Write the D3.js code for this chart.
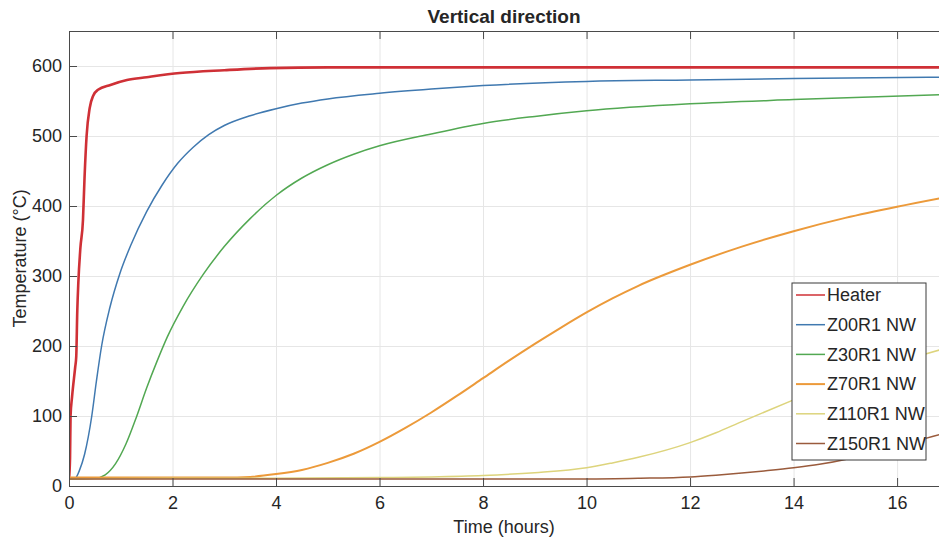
<html>

<head>
  <title>Vertical direction</title>
  <script src="https://d3js.org/d3.v7.min.js"></script>

  <style>
    body {
      margin: 0;
      background: white;
    }

    text {
      font-family: "Liberation Sans", Arial, sans-serif;
      fill: #262626;
    }

    .gridlines line {
      stroke: #e6e6e6;
    }

    .gridlines .domain {
      stroke: none;
    }
  </style>

</head>

<body>
  <svg id="chart" width=939 height=539></svg>

  <script>
    // readings: [time (hours), temperature (°C)]
    const heaterData = [[0, 10], [0.02, 40], [0.03, 100], [0.06, 128], [0.12, 170], [0.14, 185], [0.16, 250],
      [0.18, 290], [0.22, 340], [0.27, 380], [0.3, 440], [0.34, 500], [0.4, 540], [0.47, 558], [0.56, 566],
      [0.8, 573], [1.12, 580], [1.5, 584], [2.14, 590], [3, 594], [3.88, 597], [5, 598], [8, 598], [12, 598], [16.9, 598]];
    const z00Data = [[0, 10], [0.12, 11], [0.2, 22], [0.3, 45], [0.44, 100], [0.53, 150], [0.63, 200], [0.79, 255],
      [0.98, 303], [1.2, 345], [1.5, 392], [1.8, 430], [2.1, 461], [2.4, 484], [2.7, 502], [3, 515], [3.5, 529],
      [4, 539], [4.5, 547], [5, 553], [6, 561], [7, 567], [8, 572], [10, 578], [12, 580], [14, 582], [16.9, 584]];
    const z30Data = [[0, 10], [0.5, 11], [0.7, 16], [0.9, 32], [1.1, 60], [1.3, 98], [1.5, 140], [1.7, 178],
      [1.9, 213], [2.2, 256], [2.6, 303], [3, 342], [3.5, 382], [4, 415], [4.5, 440], [5, 459], [5.5, 474],
      [6, 486], [7, 503], [8, 518], [9, 528], [10, 536], [12, 546], [14, 552], [16.9, 559]];
    const z70Data = [[0, 12], [1, 12], [2, 12], [3, 12], [3.5, 13], [4, 17], [4.5, 23], [5, 33], [5.5, 46], [6, 63],
      [6.5, 83], [7, 105], [7.5, 129], [8, 154], [8.5, 179], [9, 203], [9.5, 226], [10, 248], [10.5, 268],
      [11, 286], [12, 316], [13, 342], [14, 364], [15, 383], [16, 399], [16.9, 412]];
    const z110Data = [[0, 10], [2, 11], [4, 11], [6, 12], [7, 13], [8, 15], [9, 19], [10, 26], [10.5, 33],
      [11, 41], [12, 62], [12.5, 76], [13, 92], [14, 123], [14.5, 139], [15, 155], [16, 177], [16.9, 196]];
    const z150Data = [[0, 10], [4, 10], [8, 10], [10, 10], [11, 11], [12, 13], [12.5, 15.5], [13, 18.5], [13.5, 22],
      [14, 26], [14.5, 31], [15, 38], [15.5, 47], [16, 57], [16.5, 67], [16.9, 75]];

    const seriesNames = ["Heater", "Z00R1 NW", "Z30R1 NW", "Z70R1 NW", "Z110R1 NW", "Z150R1 NW"];
    const seriesData = [heaterData, z00Data, z30Data, z70Data, z110Data, z150Data];
    const seriesColors = ["#cf3036", "#4079b0", "#52a852", "#ec9a3a", "#ddd47c", "#9a5b3c"];
    const seriesWidths = [2.6, 1.5, 1.5, 2, 1.5, 1.5];

    const xTicks = [0, 2, 4, 6, 8, 10, 12, 14, 16];
    const yTicks = [0, 100, 200, 300, 400, 500, 600];

    let svg = d3.select("svg#chart");
    let margin = { top: 31, left: 69, bottom: 53, right: 0 };
    let chartWidth = svg.attr('width') - margin.left - margin.right;
    let chartHeight = svg.attr('height') - margin.top - margin.bottom;

    // the right edge of the figure is cut off at about 16.8 hours
    const xScale = d3.scaleLinear().domain([0, 16.81]).range([0, chartWidth]);
    const yScale = d3.scaleLinear().domain([0, 650]).range([chartHeight, 0]);

    // gridlines
    svg.append('g')
      .attr("class", "y gridlines")
      .attr('transform', `translate(${margin.left},${margin.top})`)
      .call(d3.axisLeft(yScale).tickValues(yTicks).tickSize(-chartWidth).tickFormat(""));
    svg.append('g')
      .attr("class", "x gridlines")
      .attr('transform', `translate(${margin.left},${margin.top + chartHeight})`)
      .call(d3.axisBottom(xScale).tickValues(xTicks).tickSize(-chartHeight).tickFormat(""));

    svg.append("defs").append("clipPath").attr("id", "plotClip")
      .append("rect").attr("width", chartWidth).attr("height", chartHeight);

    let chartArea = svg.append('g')
      .attr('transform', `translate(${margin.left}, ${margin.top})`)
      .attr("clip-path", "url(#plotClip)");

    const line = d3.line()
      .x(d => xScale(d[0]))
      .y(d => yScale(d[1]))
      .curve(d3.curveMonotoneX);

    seriesData.forEach((d, i) => {
      chartArea.append("path")
        .datum(d)
        .attr("fill", "none")
        .attr("stroke", seriesColors[i])
        .attr("stroke-width", seriesWidths[i])
        .attr("stroke-linejoin", "round")
        .attr("d", line);
    });

    // axes: ticks pointing inward, box on top
    const axisColor = "#4a4a4a";
    let leftAxis = svg.append('g')
      .attr('transform', `translate(${margin.left},${margin.top})`)
      .call(d3.axisLeft(yScale).tickValues(yTicks).tickSizeInner(-8).tickSizeOuter(0).tickPadding(7));
    let bottomAxis = svg.append('g')
      .attr('transform', `translate(${margin.left},${margin.top + chartHeight})`)
      .call(d3.axisBottom(xScale).tickValues(xTicks).tickSizeInner(-8).tickSizeOuter(0).tickPadding(10));
    let topAxis = svg.append('g')
      .attr('transform', `translate(${margin.left},${margin.top})`)
      .call(d3.axisTop(xScale).tickValues(xTicks).tickSizeInner(-8).tickSizeOuter(0).tickFormat(""));

    [leftAxis, bottomAxis, topAxis].forEach(a => {
      a.select(".domain").attr("stroke", axisColor);
      a.selectAll(".tick line").attr("stroke", axisColor);
      a.selectAll(".tick text")
        .style("font-size", "18px")
        .attr("fill", "#262626")
        .style("font-family", '"Liberation Sans", Arial, sans-serif');
    });

    // title
    svg.append("text")
      .attr("text-anchor", "middle")
      .attr("x", margin.left + chartWidth / 2)
      .attr("y", 23)
      .style("font-size", "19px")
      .style("font-weight", "bold")
      .text("Vertical direction");

    // X axis label:
    svg.append("text")
      .attr("text-anchor", "middle")
      .attr("x", margin.left + chartWidth / 2)
      .attr("y", chartHeight + margin.top + 47)
      .style("font-size", "18px")
      .text("Time (hours)");

    // Y axis label:
    svg.append("text")
      .attr("text-anchor", "middle")
      .attr("transform", "rotate(-90)")
      .attr("y", 26)
      .attr("x", -(margin.top + chartHeight / 2))
      .style("font-size", "18px")
      .text("Temperature (°C)");

    // legend
    let legend = svg.append("g").attr("transform", "translate(792, 283)");
    legend.append("rect")
      .attr("width", 134)
      .attr("height", 177)
      .attr("fill", "white")
      .attr("stroke", "#3a3a3a")
      .attr("stroke-width", 1);
    seriesNames.forEach((d, i) => {
      let rowY = 12 + 29.7 * i;
      legend.append("line")
        .attr("x1", 4)
        .attr("x2", 33)
        .attr("y1", rowY)
        .attr("y2", rowY)
        .attr("stroke", seriesColors[i])
        .attr("stroke-width", i == 3 ? 2 : 1.5);
      legend.append("text")
        .attr("x", 35)
        .attr("y", rowY)
        .attr("dy", "0.35em")
        .style("font-size", "18px")
        .text(d);
    });
  </script>
</body>

</html>
